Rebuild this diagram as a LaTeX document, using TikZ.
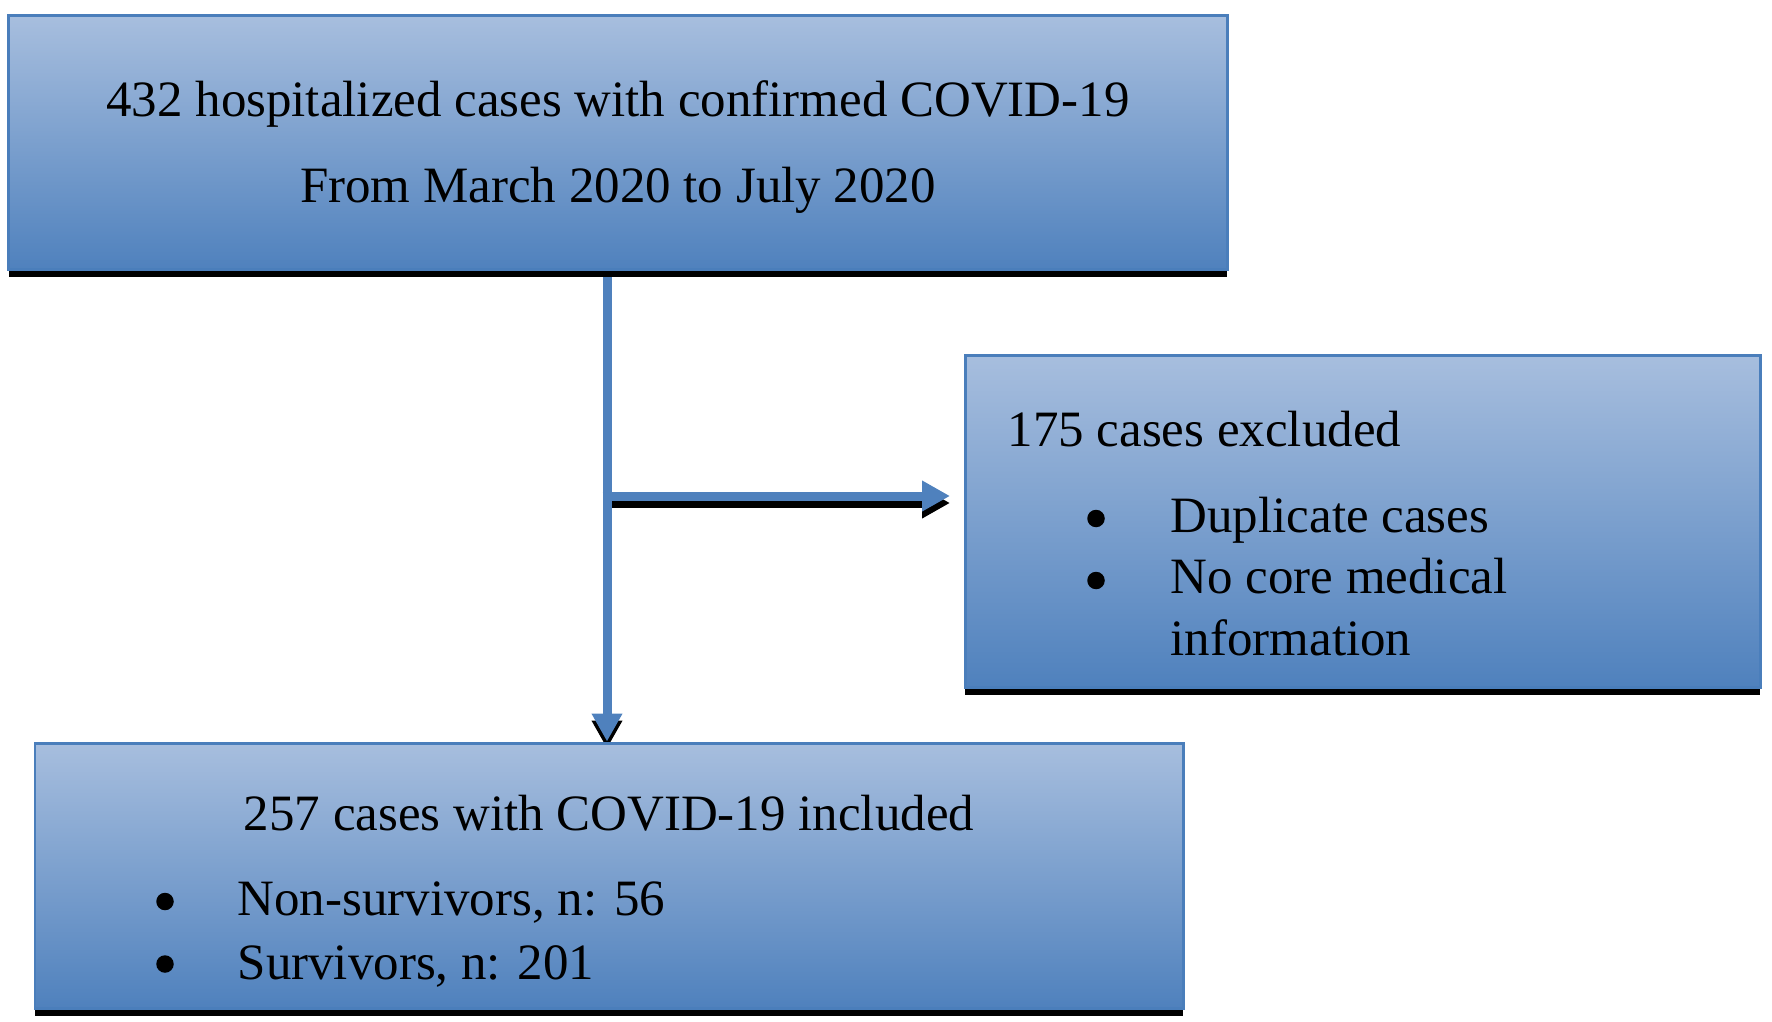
\documentclass[tikz,border=0pt]{standalone}
\usepackage{fontspec}
\setmainfont{Liberation Serif}
\usetikzlibrary{arrows.meta,shadows}
\definecolor{boxtop}{RGB}{167,190,222}
\definecolor{boxbot}{RGB}{79,129,189}
\definecolor{boxline}{RGB}{74,126,187}
\pgfdeclarelayer{background}
\pgfsetlayers{background,main}
\tikzset{
  flowbox/.style={rectangle, draw=boxline, line width=0.03cm, inner sep=0pt,
    top color=boxtop, bottom color=boxbot,
    drop shadow={shadow xshift=0cm, shadow yshift=-0.075cm, fill=black, opacity=1}},
  bodytext/.style={inner sep=0pt, font=\fontsize{14.5}{17}\selectfont},
  listdot/.style={circle, fill=black, inner sep=0pt, minimum size=0.175cm},
  flowline/.style={line width=0.09cm, draw=boxbot, -{Triangle[length=0.28cm,width=0.29cm]}},
  flowshadow/.style={flowline, draw=black}
}
\begin{document}
\begin{tikzpicture}
  \useasboundingbox (0,0) rectangle (17.72,-10.22);
  % boxes
  \node[flowbox, minimum width=12.18cm, minimum height=2.54cm] (cases) at (6.18,-1.43) {};
  \node[flowbox, minimum width=7.95cm, minimum height=3.32cm] (excl) at (13.625,-5.21) {};
  \node[flowbox, minimum width=11.48cm, minimum height=2.65cm] (incl) at (6.09,-8.755) {};
  % texts of the first box
  \node[bodytext, anchor=base] (casesA) at (6.18,-1.17) {432 hospitalized cases with confirmed COVID-19};
  \node[bodytext, anchor=base] (casesB) at (6.18,-2.02) {From March 2020 to July 2020};
  % texts of the excluded box
  \node[bodytext, anchor=base west] (exclHead) at (10.07,-4.46) {175 cases excluded};
  \node[listdot] (exclDotA) at (10.96,-5.185) {};
  \node[listdot] (exclDotB) at (10.96,-5.805) {};
  \node[bodytext, anchor=base west] (exclA) at (11.70,-5.32) {Duplicate cases};
  \node[bodytext, anchor=base west] (exclB) at (11.70,-5.93) {No core medical};
  \node[bodytext, anchor=base west] (exclC) at (11.70,-6.55) {information};
  % texts of the included box
  \node[bodytext, anchor=base] (inclHead) at (6.09,-8.30) {257 cases with COVID-19 included};
  \node[listdot] (inclDotA) at (1.65,-9.015) {};
  \node[listdot] (inclDotB) at (1.65,-9.64) {};
  \node[bodytext, anchor=base west] (inclA) at (2.37,-9.15) {Non-survivors, n: 56};
  \node[bodytext, anchor=base west] (inclB) at (2.37,-9.79) {Survivors, n: 201};
  % connectors
  \coordinate (split) at (6.07,-4.96);
  \coordinate (exclTip) at (9.50,-4.96);
  \coordinate (vTop) at (cases.south -| split);
  \coordinate (vEnd) at (incl.north -| split);
  \begin{pgfonlayer}{background}
    \draw[flowshadow] ([yshift=-0.07cm]split) -- ([yshift=-0.07cm]exclTip);
    \draw[flowshadow] ([yshift=-0.07cm]vTop) -- ([yshift=-0.07cm]vEnd);
    \draw[flowline] (vTop) -- (vEnd);
    \draw[flowline] ([xshift=-0.045cm]split) -- (exclTip);
  \end{pgfonlayer}
\end{tikzpicture}
\end{document}
